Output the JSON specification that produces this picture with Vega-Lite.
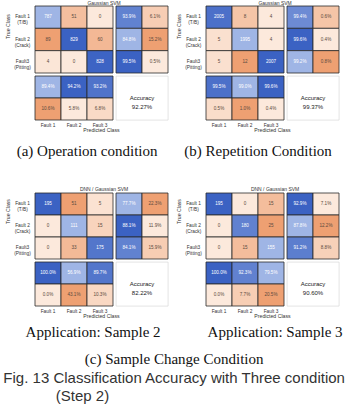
{
  "$schema": "https://vega.github.io/schema/vega-lite/v6.json",
  "background": "white",
  "padding": {"left": 2, "top": 0, "right": 0, "bottom": 2},
  "config": {
    "view": {"stroke": null},
    "font": "Liberation Sans",
    "axis": {"labelFont": "Liberation Sans", "labelFontSize": 4.8, "labelColor": "#333", "titleFont": "Liberation Sans", "titleFontSize": 5.2, "titleFontWeight": "normal", "titleColor": "#333", "ticks": false, "domain": false, "grid": false},
    "title": {"font": "Liberation Sans", "fontWeight": "normal", "color": "#222"}
  },
  "datasets": {
    "cells": [
      {"panel": "a", "block": "matrix", "row": "Fault 1 (T/B)", "col": "Fault 1", "value": 787, "correct": true},
      {"panel": "a", "block": "matrix", "row": "Fault 1 (T/B)", "col": "Fault 2", "value": 51, "correct": false},
      {"panel": "a", "block": "matrix", "row": "Fault 1 (T/B)", "col": "Fault 3", "value": 0, "correct": false},
      {"panel": "a", "block": "matrix", "row": "Fault 2 (Crack)", "col": "Fault 1", "value": 89, "correct": false},
      {"panel": "a", "block": "matrix", "row": "Fault 2 (Crack)", "col": "Fault 2", "value": 829, "correct": true},
      {"panel": "a", "block": "matrix", "row": "Fault 2 (Crack)", "col": "Fault 3", "value": 60, "correct": false},
      {"panel": "a", "block": "matrix", "row": "Fault3 (Pitting)", "col": "Fault 1", "value": 4, "correct": false},
      {"panel": "a", "block": "matrix", "row": "Fault3 (Pitting)", "col": "Fault 2", "value": 0, "correct": false},
      {"panel": "a", "block": "matrix", "row": "Fault3 (Pitting)", "col": "Fault 3", "value": 828, "correct": true},
      {"panel": "a", "block": "rowsum", "row": "Fault 1 (T/B)", "col": "hit", "value": 93.9, "correct": true},
      {"panel": "a", "block": "rowsum", "row": "Fault 1 (T/B)", "col": "miss", "value": 6.1, "correct": false},
      {"panel": "a", "block": "rowsum", "row": "Fault 2 (Crack)", "col": "hit", "value": 84.8, "correct": true},
      {"panel": "a", "block": "rowsum", "row": "Fault 2 (Crack)", "col": "miss", "value": 15.2, "correct": false},
      {"panel": "a", "block": "rowsum", "row": "Fault3 (Pitting)", "col": "hit", "value": 99.5, "correct": true},
      {"panel": "a", "block": "rowsum", "row": "Fault3 (Pitting)", "col": "miss", "value": 0.5, "correct": false},
      {"panel": "a", "block": "colsum", "row": "hit", "col": "Fault 1", "value": 89.4, "correct": true},
      {"panel": "a", "block": "colsum", "row": "miss", "col": "Fault 1", "value": 10.6, "correct": false},
      {"panel": "a", "block": "colsum", "row": "hit", "col": "Fault 2", "value": 94.2, "correct": true},
      {"panel": "a", "block": "colsum", "row": "miss", "col": "Fault 2", "value": 5.8, "correct": false},
      {"panel": "a", "block": "colsum", "row": "hit", "col": "Fault 3", "value": 93.2, "correct": true},
      {"panel": "a", "block": "colsum", "row": "miss", "col": "Fault 3", "value": 6.8, "correct": false},
      {"panel": "a", "block": "accuracy", "value": 92.27},

      {"panel": "b", "block": "matrix", "row": "Fault 1 (T/B)", "col": "Fault 1", "value": 2005, "correct": true},
      {"panel": "b", "block": "matrix", "row": "Fault 1 (T/B)", "col": "Fault 2", "value": 8, "correct": false},
      {"panel": "b", "block": "matrix", "row": "Fault 1 (T/B)", "col": "Fault 3", "value": 4, "correct": false},
      {"panel": "b", "block": "matrix", "row": "Fault 2 (Crack)", "col": "Fault 1", "value": 5, "correct": false},
      {"panel": "b", "block": "matrix", "row": "Fault 2 (Crack)", "col": "Fault 2", "value": 1995, "correct": true},
      {"panel": "b", "block": "matrix", "row": "Fault 2 (Crack)", "col": "Fault 3", "value": 4, "correct": false},
      {"panel": "b", "block": "matrix", "row": "Fault3 (Pitting)", "col": "Fault 1", "value": 5, "correct": false},
      {"panel": "b", "block": "matrix", "row": "Fault3 (Pitting)", "col": "Fault 2", "value": 12, "correct": false},
      {"panel": "b", "block": "matrix", "row": "Fault3 (Pitting)", "col": "Fault 3", "value": 2007, "correct": true},
      {"panel": "b", "block": "rowsum", "row": "Fault 1 (T/B)", "col": "hit", "value": 99.4, "correct": true},
      {"panel": "b", "block": "rowsum", "row": "Fault 1 (T/B)", "col": "miss", "value": 0.6, "correct": false},
      {"panel": "b", "block": "rowsum", "row": "Fault 2 (Crack)", "col": "hit", "value": 99.6, "correct": true},
      {"panel": "b", "block": "rowsum", "row": "Fault 2 (Crack)", "col": "miss", "value": 0.4, "correct": false},
      {"panel": "b", "block": "rowsum", "row": "Fault3 (Pitting)", "col": "hit", "value": 99.2, "correct": true},
      {"panel": "b", "block": "rowsum", "row": "Fault3 (Pitting)", "col": "miss", "value": 0.8, "correct": false},
      {"panel": "b", "block": "colsum", "row": "hit", "col": "Fault 1", "value": 99.5, "correct": true},
      {"panel": "b", "block": "colsum", "row": "miss", "col": "Fault 1", "value": 0.5, "correct": false},
      {"panel": "b", "block": "colsum", "row": "hit", "col": "Fault 2", "value": 99.0, "correct": true},
      {"panel": "b", "block": "colsum", "row": "miss", "col": "Fault 2", "value": 1.0, "correct": false},
      {"panel": "b", "block": "colsum", "row": "hit", "col": "Fault 3", "value": 99.6, "correct": true},
      {"panel": "b", "block": "colsum", "row": "miss", "col": "Fault 3", "value": 0.4, "correct": false},
      {"panel": "b", "block": "accuracy", "value": 99.37},

      {"panel": "c", "block": "matrix", "row": "Fault 1 (T/B)", "col": "Fault 1", "value": 195, "correct": true},
      {"panel": "c", "block": "matrix", "row": "Fault 1 (T/B)", "col": "Fault 2", "value": 51, "correct": false},
      {"panel": "c", "block": "matrix", "row": "Fault 1 (T/B)", "col": "Fault 3", "value": 5, "correct": false},
      {"panel": "c", "block": "matrix", "row": "Fault 2 (Crack)", "col": "Fault 1", "value": 0, "correct": false},
      {"panel": "c", "block": "matrix", "row": "Fault 2 (Crack)", "col": "Fault 2", "value": 111, "correct": true},
      {"panel": "c", "block": "matrix", "row": "Fault 2 (Crack)", "col": "Fault 3", "value": 15, "correct": false},
      {"panel": "c", "block": "matrix", "row": "Fault3 (Pitting)", "col": "Fault 1", "value": 0, "correct": false},
      {"panel": "c", "block": "matrix", "row": "Fault3 (Pitting)", "col": "Fault 2", "value": 33, "correct": false},
      {"panel": "c", "block": "matrix", "row": "Fault3 (Pitting)", "col": "Fault 3", "value": 175, "correct": true},
      {"panel": "c", "block": "rowsum", "row": "Fault 1 (T/B)", "col": "hit", "value": 77.7, "correct": true},
      {"panel": "c", "block": "rowsum", "row": "Fault 1 (T/B)", "col": "miss", "value": 22.3, "correct": false},
      {"panel": "c", "block": "rowsum", "row": "Fault 2 (Crack)", "col": "hit", "value": 88.1, "correct": true},
      {"panel": "c", "block": "rowsum", "row": "Fault 2 (Crack)", "col": "miss", "value": 11.9, "correct": false},
      {"panel": "c", "block": "rowsum", "row": "Fault3 (Pitting)", "col": "hit", "value": 84.1, "correct": true},
      {"panel": "c", "block": "rowsum", "row": "Fault3 (Pitting)", "col": "miss", "value": 15.9, "correct": false},
      {"panel": "c", "block": "colsum", "row": "hit", "col": "Fault 1", "value": 100.0, "correct": true},
      {"panel": "c", "block": "colsum", "row": "miss", "col": "Fault 1", "value": 0.0, "correct": false},
      {"panel": "c", "block": "colsum", "row": "hit", "col": "Fault 2", "value": 56.9, "correct": true},
      {"panel": "c", "block": "colsum", "row": "miss", "col": "Fault 2", "value": 43.1, "correct": false},
      {"panel": "c", "block": "colsum", "row": "hit", "col": "Fault 3", "value": 89.7, "correct": true},
      {"panel": "c", "block": "colsum", "row": "miss", "col": "Fault 3", "value": 10.3, "correct": false},
      {"panel": "c", "block": "accuracy", "value": 82.22},

      {"panel": "d", "block": "matrix", "row": "Fault 1 (T/B)", "col": "Fault 1", "value": 195, "correct": true},
      {"panel": "d", "block": "matrix", "row": "Fault 1 (T/B)", "col": "Fault 2", "value": 0, "correct": false},
      {"panel": "d", "block": "matrix", "row": "Fault 1 (T/B)", "col": "Fault 3", "value": 15, "correct": false},
      {"panel": "d", "block": "matrix", "row": "Fault 2 (Crack)", "col": "Fault 1", "value": 0, "correct": false},
      {"panel": "d", "block": "matrix", "row": "Fault 2 (Crack)", "col": "Fault 2", "value": 180, "correct": true},
      {"panel": "d", "block": "matrix", "row": "Fault 2 (Crack)", "col": "Fault 3", "value": 25, "correct": false},
      {"panel": "d", "block": "matrix", "row": "Fault3 (Pitting)", "col": "Fault 1", "value": 0, "correct": false},
      {"panel": "d", "block": "matrix", "row": "Fault3 (Pitting)", "col": "Fault 2", "value": 15, "correct": false},
      {"panel": "d", "block": "matrix", "row": "Fault3 (Pitting)", "col": "Fault 3", "value": 155, "correct": true},
      {"panel": "d", "block": "rowsum", "row": "Fault 1 (T/B)", "col": "hit", "value": 92.9, "correct": true},
      {"panel": "d", "block": "rowsum", "row": "Fault 1 (T/B)", "col": "miss", "value": 7.1, "correct": false},
      {"panel": "d", "block": "rowsum", "row": "Fault 2 (Crack)", "col": "hit", "value": 87.8, "correct": true},
      {"panel": "d", "block": "rowsum", "row": "Fault 2 (Crack)", "col": "miss", "value": 12.2, "correct": false},
      {"panel": "d", "block": "rowsum", "row": "Fault3 (Pitting)", "col": "hit", "value": 91.2, "correct": true},
      {"panel": "d", "block": "rowsum", "row": "Fault3 (Pitting)", "col": "miss", "value": 8.8, "correct": false},
      {"panel": "d", "block": "colsum", "row": "hit", "col": "Fault 1", "value": 100.0, "correct": true},
      {"panel": "d", "block": "colsum", "row": "miss", "col": "Fault 1", "value": 0.0, "correct": false},
      {"panel": "d", "block": "colsum", "row": "hit", "col": "Fault 2", "value": 92.3, "correct": true},
      {"panel": "d", "block": "colsum", "row": "miss", "col": "Fault 2", "value": 7.7, "correct": false},
      {"panel": "d", "block": "colsum", "row": "hit", "col": "Fault 3", "value": 79.5, "correct": true},
      {"panel": "d", "block": "colsum", "row": "miss", "col": "Fault 3", "value": 20.5, "correct": false},
      {"panel": "d", "block": "accuracy", "value": 90.60}
    ]
  },
  "vconcat": [
    {
      "spacing": 28,
      "title": {"text": "Fig. 13 Classification Accuracy with Three condition", "orient": "bottom", "anchor": "middle", "offset": 4, "font": "Liberation Sans", "fontSize": 15, "color": "#333"},
      "vconcat": [
        {
          "hconcat": [
            {
              "vconcat": [{
                "title": {"text": "Gaussian SVM", "fontSize": 5, "color": "#333", "offset": 0, "anchor": "middle", "frame": "bounds", "dx": 17},
                "columns": 2, "spacing": 3, "align": "each", "bounds": "flush",
                "concat": [
                  {
                    "width": 78, "height": 67,
                    "data": {"name": "cells"},
                    "transform": [
                      {"filter": "datum.panel == 'a' && datum.block == 'matrix'"},
                      {"joinaggregate": [{"op": "min", "field": "value", "as": "lo"}, {"op": "max", "field": "value", "as": "hi"}], "groupby": ["correct"]},
                      {"calculate": "(datum.correct ? 2 : 0) + (datum.hi > datum.lo ? (datum.value - datum.lo) / (datum.hi - datum.lo) : 1)", "as": "shade"}
                    ],
                    "encoding": {
                      "x": {"field": "col", "type": "nominal", "sort": ["Fault 1", "Fault 2", "Fault 3"], "axis": null},
                      "y": {"field": "row", "type": "nominal", "sort": ["Fault 1 (T/B)", "Fault 2 (Crack)", "Fault3 (Pitting)"], "axis": {"title": "True Class", "labelAlign": "center", "labelBaseline": "middle", "labelPadding": 13, "labelLineHeight": 6.3, "labelExpr": "split(replace(datum.label, ' (', '|('), '|')", "titlePadding": 3, "titleY": 20}}
                    },
                    "layer": [
                      {"mark": {"type": "rect", "stroke": "#2a2a2a", "strokeWidth": 0.8}, "encoding": {"color": {"field": "shade", "type": "quantitative", "legend": null, "scale": {"domain": [0, 1, 2, 3], "range": ["#fce9dc", "#eea072", "#9fb5e5", "#3b62c3"], "interpolate": "rgb"}}}},
                      {"mark": {"type": "text", "fontSize": 4.6}, "encoding": {"text": {"field": "value", "type": "quantitative", "format": "d"}, "color": {"condition": {"test": "datum.correct", "value": "white"}, "value": "#5a4a40"}}}
                    ]
                  },
                  {
                    "width": 52, "height": 67,
                    "data": {"name": "cells"},
                    "transform": [
                      {"filter": "datum.panel == 'a' && datum.block == 'rowsum'"},
                      {"joinaggregate": [{"op": "min", "field": "value", "as": "lo"}, {"op": "max", "field": "value", "as": "hi"}], "groupby": ["correct"]},
                      {"calculate": "(datum.correct ? 2 : 0) + (datum.hi > datum.lo ? (datum.value - datum.lo) / (datum.hi - datum.lo) : 1)", "as": "shade"},
                      {"calculate": "format(datum.value, '.1f') + '%'", "as": "label"}
                    ],
                    "encoding": {
                      "x": {"field": "col", "type": "nominal", "sort": ["hit", "miss"], "axis": null},
                      "y": {"field": "row", "type": "nominal", "sort": ["Fault 1 (T/B)", "Fault 2 (Crack)", "Fault3 (Pitting)"], "axis": null}
                    },
                    "layer": [
                      {"mark": {"type": "rect", "stroke": "#2a2a2a", "strokeWidth": 0.8}, "encoding": {"color": {"field": "shade", "type": "quantitative", "legend": null, "scale": {"domain": [0, 1, 2, 3], "range": ["#fce9dc", "#eea072", "#9fb5e5", "#3b62c3"], "interpolate": "rgb"}}}},
                      {"mark": {"type": "text", "fontSize": 4.6}, "encoding": {"text": {"field": "label"}, "color": {"condition": {"test": "datum.correct", "value": "white"}, "value": "#5a4a40"}}}
                    ]
                  },
                  {
                    "width": 78, "height": 44,
                    "data": {"name": "cells"},
                    "transform": [
                      {"filter": "datum.panel == 'a' && datum.block == 'colsum'"},
                      {"joinaggregate": [{"op": "min", "field": "value", "as": "lo"}, {"op": "max", "field": "value", "as": "hi"}], "groupby": ["correct"]},
                      {"calculate": "(datum.correct ? 2 : 0) + (datum.hi > datum.lo ? (datum.value - datum.lo) / (datum.hi - datum.lo) : 1)", "as": "shade"},
                      {"calculate": "format(datum.value, '.1f') + '%'", "as": "label"}
                    ],
                    "encoding": {
                      "x": {"field": "col", "type": "nominal", "sort": ["Fault 1", "Fault 2", "Fault 3"], "axis": {"title": "Predicted Class", "labelAngle": 0, "labelPadding": 2, "titlePadding": 1, "titleX": 66}},
                      "y": {"field": "row", "type": "nominal", "sort": ["hit", "miss"], "axis": null}
                    },
                    "layer": [
                      {"mark": {"type": "rect", "stroke": "#2a2a2a", "strokeWidth": 0.8}, "encoding": {"color": {"field": "shade", "type": "quantitative", "legend": null, "scale": {"domain": [0, 1, 2, 3], "range": ["#fce9dc", "#eea072", "#9fb5e5", "#3b62c3"], "interpolate": "rgb"}}}},
                      {"mark": {"type": "text", "fontSize": 4.6}, "encoding": {"text": {"field": "label"}, "color": {"condition": {"test": "datum.correct", "value": "white"}, "value": "#5a4a40"}}}
                    ]
                  },
                  {
                    "width": 52, "height": 44,
                    "view": {"stroke": "#d0d0d0", "strokeWidth": 0.6, "fill": "white"},
                    "data": {"name": "cells"},
                    "transform": [
                      {"filter": "datum.panel == 'a' && datum.block == 'accuracy'"},
                      {"calculate": "['Accuracy', format(datum.value, '.2f') + '%']", "as": "label"}
                    ],
                    "mark": {"type": "text", "fontSize": 6, "lineHeight": 8.5, "color": "#222"},
                    "encoding": {"text": {"field": "label"}}
                  }
                ]
              }],
              "title": {"text": "(a) Operation condition", "orient": "bottom", "anchor": "middle", "font": "Liberation Serif", "fontSize": 15, "color": "#111", "offset": 11}
            },
            {
              "vconcat": [{
                "title": {"text": "Gaussian SVM", "fontSize": 5, "color": "#333", "offset": 0, "anchor": "middle", "frame": "bounds", "dx": 17},
                "columns": 2, "spacing": 3, "align": "each", "bounds": "flush",
                "concat": [
                  {
                    "width": 78, "height": 67,
                    "data": {"name": "cells"},
                    "transform": [
                      {"filter": "datum.panel == 'b' && datum.block == 'matrix'"},
                      {"joinaggregate": [{"op": "min", "field": "value", "as": "lo"}, {"op": "max", "field": "value", "as": "hi"}], "groupby": ["correct"]},
                      {"calculate": "(datum.correct ? 2 : 0) + (datum.hi > datum.lo ? (datum.value - datum.lo) / (datum.hi - datum.lo) : 1)", "as": "shade"}
                    ],
                    "encoding": {
                      "x": {"field": "col", "type": "nominal", "sort": ["Fault 1", "Fault 2", "Fault 3"], "axis": null},
                      "y": {"field": "row", "type": "nominal", "sort": ["Fault 1 (T/B)", "Fault 2 (Crack)", "Fault3 (Pitting)"], "axis": {"title": "True Class", "labelAlign": "center", "labelBaseline": "middle", "labelPadding": 13, "labelLineHeight": 6.3, "labelExpr": "split(replace(datum.label, ' (', '|('), '|')", "titlePadding": 3, "titleY": 20}}
                    },
                    "layer": [
                      {"mark": {"type": "rect", "stroke": "#2a2a2a", "strokeWidth": 0.8}, "encoding": {"color": {"field": "shade", "type": "quantitative", "legend": null, "scale": {"domain": [0, 1, 2, 3], "range": ["#fce9dc", "#eea072", "#9fb5e5", "#3b62c3"], "interpolate": "rgb"}}}},
                      {"mark": {"type": "text", "fontSize": 4.6}, "encoding": {"text": {"field": "value", "type": "quantitative", "format": "d"}, "color": {"condition": {"test": "datum.correct", "value": "white"}, "value": "#5a4a40"}}}
                    ]
                  },
                  {
                    "width": 52, "height": 67,
                    "data": {"name": "cells"},
                    "transform": [
                      {"filter": "datum.panel == 'b' && datum.block == 'rowsum'"},
                      {"joinaggregate": [{"op": "min", "field": "value", "as": "lo"}, {"op": "max", "field": "value", "as": "hi"}], "groupby": ["correct"]},
                      {"calculate": "(datum.correct ? 2 : 0) + (datum.hi > datum.lo ? (datum.value - datum.lo) / (datum.hi - datum.lo) : 1)", "as": "shade"},
                      {"calculate": "format(datum.value, '.1f') + '%'", "as": "label"}
                    ],
                    "encoding": {
                      "x": {"field": "col", "type": "nominal", "sort": ["hit", "miss"], "axis": null},
                      "y": {"field": "row", "type": "nominal", "sort": ["Fault 1 (T/B)", "Fault 2 (Crack)", "Fault3 (Pitting)"], "axis": null}
                    },
                    "layer": [
                      {"mark": {"type": "rect", "stroke": "#2a2a2a", "strokeWidth": 0.8}, "encoding": {"color": {"field": "shade", "type": "quantitative", "legend": null, "scale": {"domain": [0, 1, 2, 3], "range": ["#fce9dc", "#eea072", "#9fb5e5", "#3b62c3"], "interpolate": "rgb"}}}},
                      {"mark": {"type": "text", "fontSize": 4.6}, "encoding": {"text": {"field": "label"}, "color": {"condition": {"test": "datum.correct", "value": "white"}, "value": "#5a4a40"}}}
                    ]
                  },
                  {
                    "width": 78, "height": 44,
                    "data": {"name": "cells"},
                    "transform": [
                      {"filter": "datum.panel == 'b' && datum.block == 'colsum'"},
                      {"joinaggregate": [{"op": "min", "field": "value", "as": "lo"}, {"op": "max", "field": "value", "as": "hi"}], "groupby": ["correct"]},
                      {"calculate": "(datum.correct ? 2 : 0) + (datum.hi > datum.lo ? (datum.value - datum.lo) / (datum.hi - datum.lo) : 1)", "as": "shade"},
                      {"calculate": "format(datum.value, '.1f') + '%'", "as": "label"}
                    ],
                    "encoding": {
                      "x": {"field": "col", "type": "nominal", "sort": ["Fault 1", "Fault 2", "Fault 3"], "axis": {"title": "Predicted Class", "labelAngle": 0, "labelPadding": 2, "titlePadding": 1, "titleX": 66}},
                      "y": {"field": "row", "type": "nominal", "sort": ["hit", "miss"], "axis": null}
                    },
                    "layer": [
                      {"mark": {"type": "rect", "stroke": "#2a2a2a", "strokeWidth": 0.8}, "encoding": {"color": {"field": "shade", "type": "quantitative", "legend": null, "scale": {"domain": [0, 1, 2, 3], "range": ["#fce9dc", "#eea072", "#9fb5e5", "#3b62c3"], "interpolate": "rgb"}}}},
                      {"mark": {"type": "text", "fontSize": 4.6}, "encoding": {"text": {"field": "label"}, "color": {"condition": {"test": "datum.correct", "value": "white"}, "value": "#5a4a40"}}}
                    ]
                  },
                  {
                    "width": 52, "height": 44,
                    "view": {"stroke": "#d0d0d0", "strokeWidth": 0.6, "fill": "white"},
                    "data": {"name": "cells"},
                    "transform": [
                      {"filter": "datum.panel == 'b' && datum.block == 'accuracy'"},
                      {"calculate": "['Accuracy', format(datum.value, '.2f') + '%']", "as": "label"}
                    ],
                    "mark": {"type": "text", "fontSize": 6, "lineHeight": 8.5, "color": "#222"},
                    "encoding": {"text": {"field": "label"}}
                  }
                ]
              }],
              "title": {"text": "(b) Repetition Condition", "orient": "bottom", "anchor": "middle", "font": "Liberation Serif", "fontSize": 15, "color": "#111", "offset": 11}
            }
          ],
          "spacing": 7
        },
        {
          "hconcat": [
            {
              "vconcat": [{
                "title": {"text": "DNN / Gaussian SVM", "fontSize": 5, "color": "#333", "offset": 0.5, "anchor": "middle", "frame": "bounds", "dx": 17},
                "columns": 2, "spacing": 3, "align": "each", "bounds": "flush",
                "concat": [
                  {
                    "width": 78, "height": 66,
                    "data": {"name": "cells"},
                    "transform": [
                      {"filter": "datum.panel == 'c' && datum.block == 'matrix'"},
                      {"joinaggregate": [{"op": "min", "field": "value", "as": "lo"}, {"op": "max", "field": "value", "as": "hi"}], "groupby": ["correct"]},
                      {"calculate": "(datum.correct ? 2 : 0) + (datum.hi > datum.lo ? (datum.value - datum.lo) / (datum.hi - datum.lo) : 1)", "as": "shade"}
                    ],
                    "encoding": {
                      "x": {"field": "col", "type": "nominal", "sort": ["Fault 1", "Fault 2", "Fault 3"], "axis": null},
                      "y": {"field": "row", "type": "nominal", "sort": ["Fault 1 (T/B)", "Fault 2 (Crack)", "Fault3 (Pitting)"], "axis": {"title": "True Class", "labelAlign": "center", "labelBaseline": "middle", "labelPadding": 13, "labelLineHeight": 6.3, "labelExpr": "split(replace(datum.label, ' (', '|('), '|')", "titlePadding": 3, "titleY": 18}}
                    },
                    "layer": [
                      {"mark": {"type": "rect", "stroke": "#2a2a2a", "strokeWidth": 0.8}, "encoding": {"color": {"field": "shade", "type": "quantitative", "legend": null, "scale": {"domain": [0, 1, 2, 3], "range": ["#fce9dc", "#eea072", "#9fb5e5", "#3b62c3"], "interpolate": "rgb"}}}},
                      {"mark": {"type": "text", "fontSize": 4.6}, "encoding": {"text": {"field": "value", "type": "quantitative", "format": "d"}, "color": {"condition": {"test": "datum.correct", "value": "white"}, "value": "#5a4a40"}}}
                    ]
                  },
                  {
                    "width": 52, "height": 66,
                    "data": {"name": "cells"},
                    "transform": [
                      {"filter": "datum.panel == 'c' && datum.block == 'rowsum'"},
                      {"joinaggregate": [{"op": "min", "field": "value", "as": "lo"}, {"op": "max", "field": "value", "as": "hi"}], "groupby": ["correct"]},
                      {"calculate": "(datum.correct ? 2 : 0) + (datum.hi > datum.lo ? (datum.value - datum.lo) / (datum.hi - datum.lo) : 1)", "as": "shade"},
                      {"calculate": "format(datum.value, '.1f') + '%'", "as": "label"}
                    ],
                    "encoding": {
                      "x": {"field": "col", "type": "nominal", "sort": ["hit", "miss"], "axis": null},
                      "y": {"field": "row", "type": "nominal", "sort": ["Fault 1 (T/B)", "Fault 2 (Crack)", "Fault3 (Pitting)"], "axis": null}
                    },
                    "layer": [
                      {"mark": {"type": "rect", "stroke": "#2a2a2a", "strokeWidth": 0.8}, "encoding": {"color": {"field": "shade", "type": "quantitative", "legend": null, "scale": {"domain": [0, 1, 2, 3], "range": ["#fce9dc", "#eea072", "#9fb5e5", "#3b62c3"], "interpolate": "rgb"}}}},
                      {"mark": {"type": "text", "fontSize": 4.6}, "encoding": {"text": {"field": "label"}, "color": {"condition": {"test": "datum.correct", "value": "white"}, "value": "#5a4a40"}}}
                    ]
                  },
                  {
                    "width": 78, "height": 44,
                    "data": {"name": "cells"},
                    "transform": [
                      {"filter": "datum.panel == 'c' && datum.block == 'colsum'"},
                      {"joinaggregate": [{"op": "min", "field": "value", "as": "lo"}, {"op": "max", "field": "value", "as": "hi"}], "groupby": ["correct"]},
                      {"calculate": "(datum.correct ? 2 : 0) + (datum.hi > datum.lo ? (datum.value - datum.lo) / (datum.hi - datum.lo) : 1)", "as": "shade"},
                      {"calculate": "format(datum.value, '.1f') + '%'", "as": "label"}
                    ],
                    "encoding": {
                      "x": {"field": "col", "type": "nominal", "sort": ["Fault 1", "Fault 2", "Fault 3"], "axis": {"title": "Predicted Class", "labelAngle": 0, "labelPadding": 2, "titlePadding": 1, "titleX": 66}},
                      "y": {"field": "row", "type": "nominal", "sort": ["hit", "miss"], "axis": null}
                    },
                    "layer": [
                      {"mark": {"type": "rect", "stroke": "#2a2a2a", "strokeWidth": 0.8}, "encoding": {"color": {"field": "shade", "type": "quantitative", "legend": null, "scale": {"domain": [0, 1, 2, 3], "range": ["#fce9dc", "#eea072", "#9fb5e5", "#3b62c3"], "interpolate": "rgb"}}}},
                      {"mark": {"type": "text", "fontSize": 4.6}, "encoding": {"text": {"field": "label"}, "color": {"condition": {"test": "datum.correct", "value": "white"}, "value": "#5a4a40"}}}
                    ]
                  },
                  {
                    "width": 52, "height": 44,
                    "view": {"stroke": "#d0d0d0", "strokeWidth": 0.6, "fill": "white"},
                    "data": {"name": "cells"},
                    "transform": [
                      {"filter": "datum.panel == 'c' && datum.block == 'accuracy'"},
                      {"calculate": "['Accuracy', format(datum.value, '.2f') + '%']", "as": "label"}
                    ],
                    "mark": {"type": "text", "fontSize": 6, "lineHeight": 8.5, "color": "#222"},
                    "encoding": {"text": {"field": "label"}}
                  }
                ]
              }],
              "title": {"text": "Application: Sample 2", "orient": "bottom", "anchor": "middle", "dx": 6, "font": "Liberation Serif", "fontSize": 15, "color": "#111", "offset": 6}
            },
            {
              "vconcat": [{
                "title": {"text": "DNN / Gaussian SVM", "fontSize": 5, "color": "#333", "offset": 0.5, "anchor": "middle", "frame": "bounds", "dx": 17},
                "columns": 2, "spacing": 3, "align": "each", "bounds": "flush",
                "concat": [
                  {
                    "width": 78, "height": 66,
                    "data": {"name": "cells"},
                    "transform": [
                      {"filter": "datum.panel == 'd' && datum.block == 'matrix'"},
                      {"joinaggregate": [{"op": "min", "field": "value", "as": "lo"}, {"op": "max", "field": "value", "as": "hi"}], "groupby": ["correct"]},
                      {"calculate": "(datum.correct ? 2 : 0) + (datum.hi > datum.lo ? (datum.value - datum.lo) / (datum.hi - datum.lo) : 1)", "as": "shade"}
                    ],
                    "encoding": {
                      "x": {"field": "col", "type": "nominal", "sort": ["Fault 1", "Fault 2", "Fault 3"], "axis": null},
                      "y": {"field": "row", "type": "nominal", "sort": ["Fault 1 (T/B)", "Fault 2 (Crack)", "Fault3 (Pitting)"], "axis": {"title": "True Class", "labelAlign": "center", "labelBaseline": "middle", "labelPadding": 13, "labelLineHeight": 6.3, "labelExpr": "split(replace(datum.label, ' (', '|('), '|')", "titlePadding": 3, "titleY": 18}}
                    },
                    "layer": [
                      {"mark": {"type": "rect", "stroke": "#2a2a2a", "strokeWidth": 0.8}, "encoding": {"color": {"field": "shade", "type": "quantitative", "legend": null, "scale": {"domain": [0, 1, 2, 3], "range": ["#fce9dc", "#eea072", "#9fb5e5", "#3b62c3"], "interpolate": "rgb"}}}},
                      {"mark": {"type": "text", "fontSize": 4.6}, "encoding": {"text": {"field": "value", "type": "quantitative", "format": "d"}, "color": {"condition": {"test": "datum.correct", "value": "white"}, "value": "#5a4a40"}}}
                    ]
                  },
                  {
                    "width": 52, "height": 66,
                    "data": {"name": "cells"},
                    "transform": [
                      {"filter": "datum.panel == 'd' && datum.block == 'rowsum'"},
                      {"joinaggregate": [{"op": "min", "field": "value", "as": "lo"}, {"op": "max", "field": "value", "as": "hi"}], "groupby": ["correct"]},
                      {"calculate": "(datum.correct ? 2 : 0) + (datum.hi > datum.lo ? (datum.value - datum.lo) / (datum.hi - datum.lo) : 1)", "as": "shade"},
                      {"calculate": "format(datum.value, '.1f') + '%'", "as": "label"}
                    ],
                    "encoding": {
                      "x": {"field": "col", "type": "nominal", "sort": ["hit", "miss"], "axis": null},
                      "y": {"field": "row", "type": "nominal", "sort": ["Fault 1 (T/B)", "Fault 2 (Crack)", "Fault3 (Pitting)"], "axis": null}
                    },
                    "layer": [
                      {"mark": {"type": "rect", "stroke": "#2a2a2a", "strokeWidth": 0.8}, "encoding": {"color": {"field": "shade", "type": "quantitative", "legend": null, "scale": {"domain": [0, 1, 2, 3], "range": ["#fce9dc", "#eea072", "#9fb5e5", "#3b62c3"], "interpolate": "rgb"}}}},
                      {"mark": {"type": "text", "fontSize": 4.6}, "encoding": {"text": {"field": "label"}, "color": {"condition": {"test": "datum.correct", "value": "white"}, "value": "#5a4a40"}}}
                    ]
                  },
                  {
                    "width": 78, "height": 44,
                    "data": {"name": "cells"},
                    "transform": [
                      {"filter": "datum.panel == 'd' && datum.block == 'colsum'"},
                      {"joinaggregate": [{"op": "min", "field": "value", "as": "lo"}, {"op": "max", "field": "value", "as": "hi"}], "groupby": ["correct"]},
                      {"calculate": "(datum.correct ? 2 : 0) + (datum.hi > datum.lo ? (datum.value - datum.lo) / (datum.hi - datum.lo) : 1)", "as": "shade"},
                      {"calculate": "format(datum.value, '.1f') + '%'", "as": "label"}
                    ],
                    "encoding": {
                      "x": {"field": "col", "type": "nominal", "sort": ["Fault 1", "Fault 2", "Fault 3"], "axis": {"title": "Predicted Class", "labelAngle": 0, "labelPadding": 2, "titlePadding": 1, "titleX": 66}},
                      "y": {"field": "row", "type": "nominal", "sort": ["hit", "miss"], "axis": null}
                    },
                    "layer": [
                      {"mark": {"type": "rect", "stroke": "#2a2a2a", "strokeWidth": 0.8}, "encoding": {"color": {"field": "shade", "type": "quantitative", "legend": null, "scale": {"domain": [0, 1, 2, 3], "range": ["#fce9dc", "#eea072", "#9fb5e5", "#3b62c3"], "interpolate": "rgb"}}}},
                      {"mark": {"type": "text", "fontSize": 4.6}, "encoding": {"text": {"field": "label"}, "color": {"condition": {"test": "datum.correct", "value": "white"}, "value": "#5a4a40"}}}
                    ]
                  },
                  {
                    "width": 52, "height": 44,
                    "view": {"stroke": "#d0d0d0", "strokeWidth": 0.6, "fill": "white"},
                    "data": {"name": "cells"},
                    "transform": [
                      {"filter": "datum.panel == 'd' && datum.block == 'accuracy'"},
                      {"calculate": "['Accuracy', format(datum.value, '.2f') + '%']", "as": "label"}
                    ],
                    "mark": {"type": "text", "fontSize": 6, "lineHeight": 8.5, "color": "#222"},
                    "encoding": {"text": {"field": "label"}}
                  }
                ]
              }],
              "title": {"text": "Application: Sample 3", "orient": "bottom", "anchor": "middle", "dx": 17, "font": "Liberation Serif", "fontSize": 15, "color": "#111", "offset": 6}
            }
          ],
          "spacing": 7,
          "title": {"text": "(c) Sample Change Condition", "orient": "bottom", "anchor": "middle", "font": "Liberation Serif", "fontSize": 15, "color": "#111", "offset": 12}
        }
      ]
    }
  ],
  "title": {"text": "(Step 2)", "orient": "bottom", "anchor": "start", "dx": 53, "offset": 3, "font": "Liberation Sans", "fontSize": 15, "color": "#333"}
}
